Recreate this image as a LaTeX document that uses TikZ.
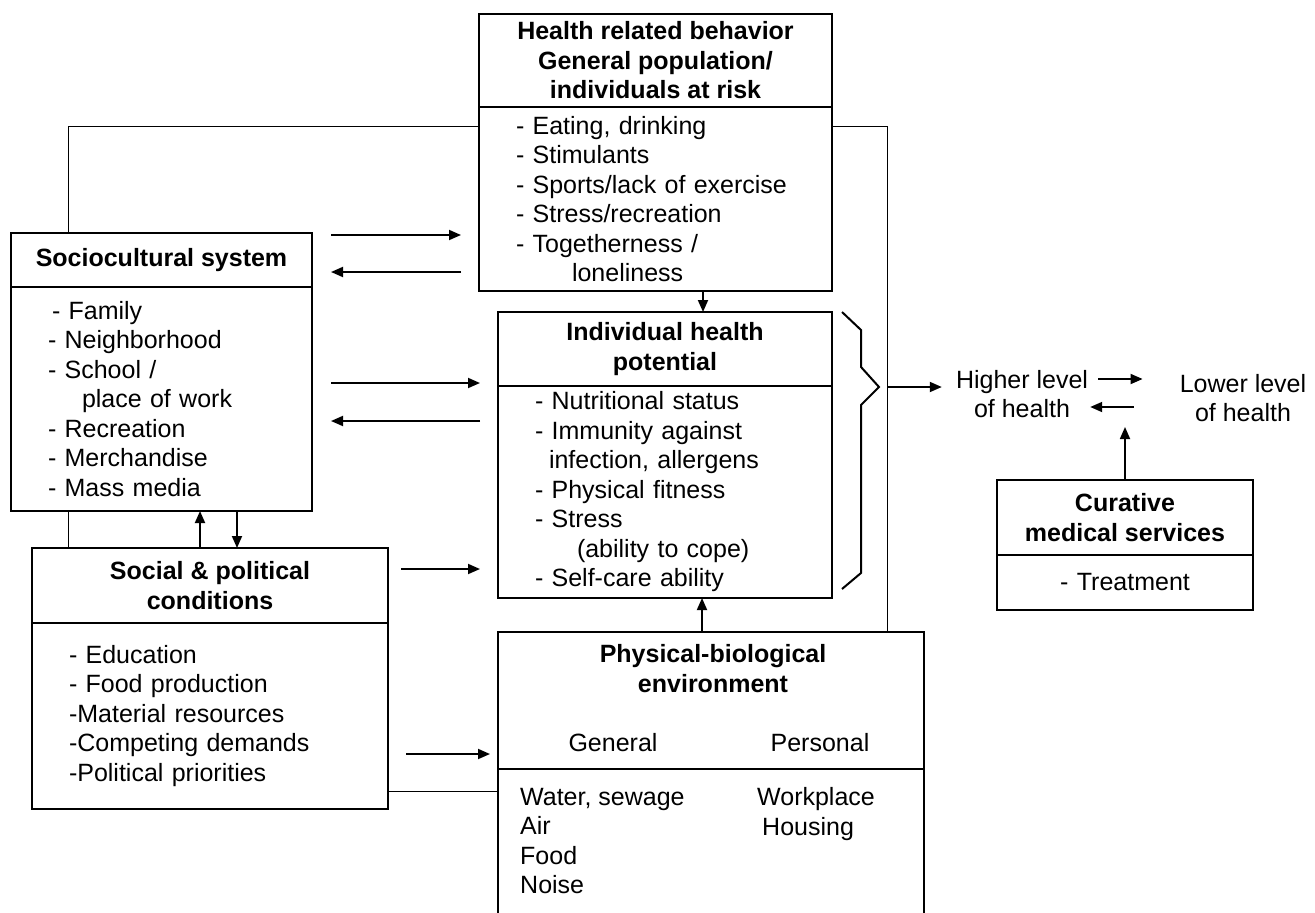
\documentclass[tikz,border=0pt]{standalone}
\usepackage{fontspec}
\setmainfont{Liberation Sans}
\usetikzlibrary{arrows.meta}
\usetikzlibrary{calc}
\usetikzlibrary{positioning}
\tikzset{
    boxhead/.style={draw=black, line width=2pt, fill=white, outer sep=0pt, inner ysep=2pt, align=center, font=\fontsize{25}{29.5}\selectfont\bfseries},
    boxbody/.style={draw=black, line width=2pt, fill=white, outer sep=0pt, inner xsep=37pt, inner ysep=3pt, font=\fontsize{25}{29.5}\selectfont},
    txt/.style={inner sep=0pt, font=\fontsize{25}{29.5}\selectfont},
    arr/.style={-{Triangle[length=12pt,width=10pt]}, line width=1.8pt},
}
\newcommand{\drawhealthbox}[8][align=left]{
    \node [boxhead, anchor=north west, minimum width=#4, minimum height=#5] (#2H) at (#3) {#7};
    \pgfmathsetmacro{\bodywidth}{#4-74}
    \node [boxbody, below=0pt of #2H, minimum width=#4, minimum height=#6, text width=\bodywidth pt, #1] (#2B) {#8};
}

\begin{document}
\begin{tikzpicture}[x=1pt, y=-1pt]
    \useasboundingbox (0,0) rectangle (1315,913);
    \clip (0,0) rectangle (1315,913);
    \draw [line width=1pt] (68,126) rectangle (887,791);

    \drawhealthbox{top}{479,14}{353}{93}{184}{Health related behavior\\General population/\\individuals at risk}{- Eating, drinking\\- Stimulants\\- Sports/lack of exercise\\- Stress/recreation\\- Togetherness /\\\hspace*{56pt}loneliness}
    \drawhealthbox{soc}{11,233}{301}{54}{224}{Sociocultural system}{\hspace*{4pt}- Family\\- Neighborhood\\- School /\\\hspace*{34pt}place of work\\- Recreation\\- Merchandise\\- Mass media}
    \drawhealthbox{ind}{498,312}{334}{74}{212}{Individual health\\potential}{- Nutritional status\\- Immunity against\\\hspace*{14pt}infection, allergens\\- Physical fitness\\- Stress\\\hspace*{42pt}(ability to cope)\\- Self-care ability}
    \drawhealthbox{spc}{32,548}{356}{75}{186}{Social \& political\\conditions}{- Education\\- Food production\\-Material resources\\-Competing demands\\-Political priorities}
    \drawhealthbox{pb}{498,632}{426}{137}{330}{}{}
    \drawhealthbox[align=center]{cur}{997,480}{256}{75}{55}{Curative\\medical services}{- Treatment}

    \node [txt, align=center, font=\fontsize{25}{29.5}\selectfont\bfseries] (pbTitle) at (713,668.5) {Physical-biological\\environment};
    \node [txt] (pbGen) at (613,743) {General};
    \node [txt] (pbPer) at (820,743) {Personal};
    \node [txt, align=left, anchor=west] (pbGenList) at (520,841) {Water, sewage\\Air\\Food\\Noise};
    \node [txt, align=left, anchor=west] (pbPerList) at (757,814) {Workplace\\\hspace*{5pt}Housing};

    \node [txt, align=center] (hi) at (1022,394) {Higher level\\of health};
    \node [txt, align=center] (lo) at (1243,398) {Lower level\\of health};

    \draw [line width=2pt] (842,312) -- (861,330) -- (861,367) -- (879,387) -- (861,405) -- (861,573) -- (842,589);
    \coordinate (brtip) at (879,387);
    \coordinate (curTo) at (1125,427);

    \draw [arr, shorten <=19pt, shorten >=18pt] (socH.east |- 0,235) -- (topB.west |- 0,235);
    \draw [arr, shorten <=18pt, shorten >=19pt] (topB.west |- 0,272) -- (socH.east |- 0,272);
    \draw [arr, shorten <=19pt, shorten >=18pt] (socB.east |- 0,383) -- (indB.west |- 0,383);
    \draw [arr, shorten <=18pt, shorten >=19pt] (indB.west |- 0,421) -- (socB.east |- 0,421);
    \draw [arr, shorten <=13pt, shorten >=18pt] (spcH.east |- 0,569) -- (indB.west |- 0,569);
    \draw [arr, shorten <=18pt, shorten >=8pt] (spcB.east |- 0,754) -- (pbH.west |- 0,754);
    \draw [arr] (topB.south -| 703,0) -- (indH.north -| 703,0);
    \draw [arr] (pbH.north -| 702,0) -- (indB.south -| 702,0);
    \draw [arr] (spcH.north -| 200,0) -- (socB.south -| 200,0);
    \draw [arr] (socB.south -| 237,0) -- (spcH.north -| 237,0);
    \draw [arr, shorten <=8pt, shorten >=14pt] (brtip) -- (hi.west |- brtip);
    \draw [arr, shorten <=10pt, shorten >=37pt] (hi.east |- 0,379) -- (lo.west |- 0,379);
    \draw [arr, shorten <=46pt, shorten >=2pt] (lo.west |- 0,407) -- (hi.east |- 0,407);
    \draw [arr] (curH.north) -- (curTo);
\end{tikzpicture}
\end{document}
